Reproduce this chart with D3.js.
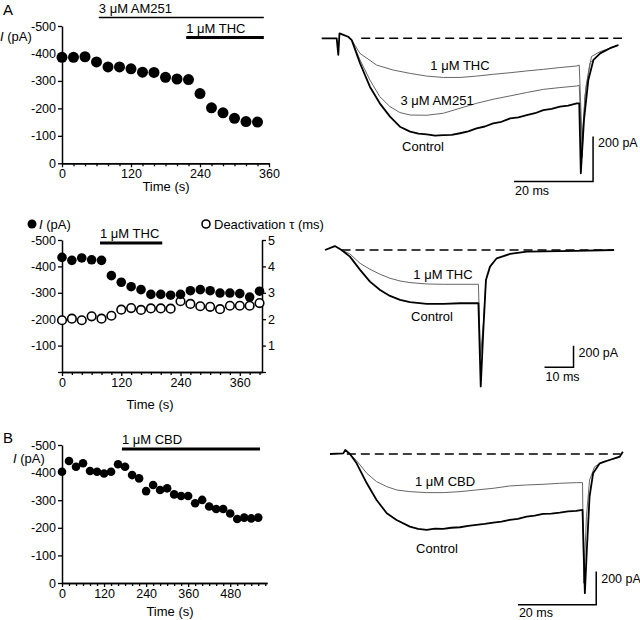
<!DOCTYPE html>
<html><head><meta charset="utf-8">
<script src="https://cdn.jsdelivr.net/npm/d3@7"></script>
<style>
body{margin:0;background:#fff}
text{font-family:"Liberation Sans",Arial,Helvetica,sans-serif;fill:#000}
</style>
</head><body><svg id="c" width="640" height="620"></svg>
<script>
// ---------- DATA ----------
// Panel A (top): current vs time
const a1Time = [0,20,40,60,80,100,120,140,160,180,200,220,240,260,280,300,320,340];
const a1Current = [-386,-386,-388,-369,-351,-351,-344,-332,-331,-313,-307,-305,-254,-202,-184,-164,-152,-150];
const a1Ticks = [0,120,240,360];
const a1Minor = [20,40,60,80,100,140,160,180,200,220,260,280,300,320,340];
const a1Bars = [{label:"3 μM AM251", start:64, end:351, heavy:false},
                {label:"1 μM THC", start:216, end:351, heavy:true}];

// Panel A (middle): current and deactivation tau vs time
const a2Time = [0,20,40,60,80,100,120,140,160,180,200,220,240,260,280,300,320,340,360,380,400];
const a2Current = [-434,-423,-432,-425,-423,-365,-340,-323,-312,-294,-294,-291,-294,-308,-312,-308,-299,-299,-297,-284,-306];
const a2Tau = [1.96,2.02,1.96,2.11,2.02,2.13,2.36,2.42,2.35,2.41,2.41,2.40,2.68,2.58,2.49,2.47,2.38,2.51,2.51,2.51,2.61];
const a2Ticks = [0,120,240,360];
const a2Minor = [20,40,60,80,100,140,160,180,200,220,260,280,300,320,340,380,400];
const a2Bars = [{label:"1 μM THC", start:77, end:203, heavy:true}];
const tauTicks = [1,2,3,4,5];

// Panel B: current vs time
const bTime = [0,20,40,60,80,100,120,140,160,180,200,220,240,260,280,300,320,340,360,380,400,420,440,460,480,500,520,540,560];
const bCurrent = [-403,-442,-421,-434,-406,-403,-397,-403,-430,-421,-391,-379,-333,-355,-337,-343,-321,-315,-315,-289,-301,-277,-268,-268,-252,-232,-237,-234,-237];
const bTicks = [0,120,240,360,480];
const bMinor = [20,40,60,80,100,140,160,180,200,220,260,280,300,320,340,380,400,420,440,460,500,520,540,560,580];
const bBars = [{label:"1 μM CBD", start:171, end:565, heavy:true}];

const currentTicks = [0,-100,-200,-300,-400,-500];

// Traces: [time (ms), current (pA)]
const t1Control = [[0,0],[3.8,0],[4.2,-74],[4.5,22],[5.5,15],[6.7,7],[7.6,-8],[9.7,-111],[12.2,-215],[14.7,-289],[17.3,-348],[19.8,-393],[22.4,-415],[24.5,-424],[26.6,-427],[28.7,-433],[30.8,-430],[32.9,-429],[35.0,-422],[37.1,-414],[39.2,-400],[41.3,-392],[43.4,-378],[45.5,-371],[47.7,-356],[49.8,-351],[51.9,-341],[54.0,-333],[56.1,-319],[58.2,-314],[60.3,-304],[62.4,-299],[64.6,-289],[65.2,-289],[65.6,-600],[66.4,-363],[67.5,-185],[68.8,-96],[70.5,-67],[73.0,-44],[75.1,-30]];
const t1THC = [[7.6,-8],[9.7,-67],[13.9,-119],[18.1,-141],[22.4,-156],[26.6,-168],[30.8,-174],[35.0,-174],[39.2,-168],[43.4,-160],[47.7,-153],[51.9,-145],[56.1,-138],[60.3,-130],[64.6,-123],[65.2,-119],[65.9,-450],[66.9,-215],[68.3,-81],[70.5,-59],[73.0,-44],[75.1,-30]];
const t1AM251 = [[7.6,-8],[9.7,-96],[12.2,-185],[14.7,-259],[17.3,-304],[19.8,-330],[22.4,-341],[26.6,-342],[30.8,-333],[35.0,-311],[39.2,-289],[43.4,-271],[47.7,-256],[51.9,-241],[56.1,-227],[60.3,-219],[64.6,-212],[65.2,-209],[65.9,-530],[66.6,-259],[67.9,-111],[70.5,-65],[73.0,-44],[75.1,-30]];
const t1Base = [[10,0],[76,0]];

const t2Control = [[0,0],[3.4,37],[5.7,0],[8.6,-62],[12.1,-187],[15.5,-297],[19.0,-375],[22.4,-431],[25.9,-469],[29.3,-490],[35.1,-506],[40.8,-506],[46.6,-500],[52.9,-500],[53.7,-1281],[54.6,-750],[55.5,-281],[56.9,-156],[59.2,-78],[63.8,-37],[69.6,-16],[75.3,-12],[86.8,-9],[99.7,0]];
const t2THC = [[5.7,0],[8.6,-37],[12.1,-125],[15.5,-181],[19.0,-228],[22.4,-265],[25.9,-291],[29.3,-306],[35.1,-319],[40.8,-322],[46.6,-322],[52.9,-322],[53.6,-1000],[54.6,-700],[55.5,-281]];
const t2Base = [[5.7,0],[98.3,0]];

const t3Control = [[0,0],[3.4,4],[3.9,24],[5.1,0],[6.8,-56],[9.4,-176],[11.9,-276],[14.5,-356],[17.0,-396],[20.4,-436],[22.5,-450],[24.7,-456],[26.8,-448],[28.9,-450],[31.0,-443],[33.2,-440],[35.3,-432],[37.4,-426],[39.5,-420],[41.7,-412],[43.8,-406],[45.9,-396],[48.0,-390],[50.2,-376],[52.3,-370],[54.4,-360],[56.5,-358],[58.7,-352],[60.8,-344],[62.9,-342],[64.5,-336],[65.1,-836],[65.6,-576],[66.3,-256],[67.2,-116],[68.9,-56],[71.4,-36],[74.0,-16],[74.8,14]];
const t3CBD = [[5.1,0],[6.8,-40],[9.4,-116],[11.9,-166],[14.5,-196],[17.0,-216],[20.4,-226],[24.7,-232],[28.9,-232],[33.2,-226],[37.4,-216],[41.7,-206],[45.9,-192],[50.2,-186],[54.4,-182],[58.7,-176],[62.9,-172],[64.5,-172],[64.8,-776],[65.5,-376],[66.3,-156],[67.6,-76],[69.7,-46],[74.0,-20]];
const t3Base = [[4.3,0],[74.2,0]];

// ---------- DRAWING ----------
const svg = d3.select("#c");
const FS = 12.5;

function styleAxis(g){
  g.select(".domain").attr("stroke","#000").attr("stroke-width",1.5);
  g.selectAll(".tick line").attr("stroke","#000").attr("stroke-width",1.3);
  g.selectAll(".tick text").attr("font-size",FS).attr("fill","#000")
   .attr("font-family",'"Liberation Sans",Arial,sans-serif');
}
function xAxis(scale, y, majors, minors){
  const g1 = svg.append("g").attr("transform",`translate(0,${y})`)
    .call(d3.axisBottom(scale).tickValues(minors).tickSize(3).tickSizeOuter(0).tickFormat(""));
  styleAxis(g1);
  const g2 = svg.append("g").attr("transform",`translate(0,${y})`)
    .call(d3.axisBottom(scale).tickValues(majors).tickSize(4).tickSizeOuter(0).tickPadding(2).tickFormat(d=>String(d)));
  styleAxis(g2);
}
function yAxis(scale, x, ticks, showZero){
  const g = svg.append("g").attr("transform",`translate(${x},0)`)
    .call(d3.axisLeft(scale).tickValues(ticks).tickSize(4).tickSizeOuter(0).tickPadding(2)
      .tickFormat(d => (d===0 && !showZero) ? "" : String(d)));
  styleAxis(g);
}
function bars(xs, list, yThin, yHeavy){
  list.forEach(b=>{
    const y = b.heavy ? yHeavy : yThin;
    svg.append("line").attr("x1",xs(b.start)).attr("x2",xs(b.end)).attr("y1",y).attr("y2",y)
      .attr("stroke","#000").attr("stroke-width",b.heavy?3:1.5);
    svg.append("text").attr("x",xs(b.start)).attr("y",y-5).attr("font-size",13).text(b.label);
  });
}
function ylabel(x,y){
  const t = svg.append("text").attr("x",x).attr("y",y).attr("font-size",13);
  t.append("tspan").attr("font-style","italic").text("I");
  t.append("tspan").text(" (pA)");
  return t;
}

// Panel A top
const xA1 = d3.scaleLinear().domain([0,360]).range([62,269]);
const yA1 = d3.scaleLinear().domain([0,-500]).range([163.3,26]);
xAxis(xA1, 163.3, a1Ticks, a1Minor);
yAxis(yA1, 62, currentTicks, true);
svg.append("g").selectAll("circle").data(a1Time).join("circle")
  .attr("cx",(d)=>xA1(d)).attr("cy",(d,i)=>yA1(a1Current[i])).attr("r",5.5).attr("fill","#000");
bars(xA1, a1Bars, 17.5, 37.5);
svg.append("text").attr("x",166).attr("y",191).attr("text-anchor","middle").attr("font-size",13).text("Time (s)");
svg.append("text").attr("x",3).attr("y",15).attr("font-size",15).text("A");
ylabel(0,41);

// Panel A middle
const xA2 = d3.scaleLinear().domain([0,405]).range([62,262]);
const yA2 = d3.scaleLinear().domain([0,-500]).range([372,240]);
const yTau = d3.scaleLinear().domain([0,5]).range([372,240]);
xAxis(xA2, 372, a2Ticks, a2Minor);
yAxis(yA2, 62, currentTicks, false);
const gR = svg.append("g").attr("transform","translate(262,0)")
  .call(d3.axisRight(yTau).tickValues([0].concat(tauTicks)).tickSize(4).tickSizeOuter(0).tickPadding(2).tickFormat(d=>d===0?"":String(d)));
styleAxis(gR);
svg.append("g").selectAll("circle").data(a2Time).join("circle")
  .attr("cx",d=>xA2(d)).attr("cy",(d,i)=>yTau(a2Tau[i])).attr("r",4.3)
  .attr("fill","#fff").attr("stroke","#000").attr("stroke-width",1.6);
svg.append("g").selectAll("circle").data(a2Time).join("circle")
  .attr("cx",d=>xA2(d)).attr("cy",(d,i)=>yA2(a2Current[i])).attr("r",4.8).attr("fill","#000");
bars(xA2, a2Bars, 243, 243);
svg.append("text").attr("x",150).attr("y",409).attr("text-anchor","middle").attr("font-size",13).text("Time (s)");
svg.append("circle").attr("cx",32).attr("cy",224).attr("r",4.5).attr("fill","#000");
ylabel(39,229);
svg.append("circle").attr("cx",206).attr("cy",224).attr("r",4).attr("fill","#fff").attr("stroke","#000").attr("stroke-width",1.6);
svg.append("text").attr("x",214).attr("y",229).attr("font-size",13).text("Deactivation τ (ms)");

// Panel B
const xB = d3.scaleLinear().domain([0,585]).range([62,267]);
const yB = d3.scaleLinear().domain([0,-500]).range([583,445]);
xAxis(xB, 583, bTicks, bMinor);
yAxis(yB, 62, currentTicks, true);
svg.append("g").selectAll("circle").data(bTime).join("circle")
  .attr("cx",d=>xB(d)).attr("cy",(d,i)=>yB(bCurrent[i])).attr("r",4.3).attr("fill","#000");
bars(xB, bBars, 449, 449);
svg.append("text").attr("x",170).attr("y",616).attr("text-anchor","middle").attr("font-size",13).text("Time (s)");
svg.append("text").attr("x",3).attr("y",443).attr("font-size",15).text("B");
ylabel(13,463);

// Traces
function tracePanel(xs, ys, series, base, sbar, labelDy){
  const line = d3.line().x(d=>xs(d[0])).y(d=>ys(d[1])).curve(d3.curveLinear);
  svg.append("path").datum(base).attr("d",line).attr("fill","none").attr("stroke","#000")
    .attr("stroke-width",1.4).attr("stroke-dasharray","9,5");
  series.forEach(s=>{
    svg.append("path").datum(s.data).attr("d",line).attr("fill","none")
      .attr("stroke",s.color).attr("stroke-width",s.w).attr("stroke-linejoin","round");
  });
  // scale bar
  const [t0,p0,dt,dp] = sbar;
  svg.append("path").attr("d",`M${xs(t0-dt)},${ys(p0)}H${xs(t0)}V${ys(p0+dp)}`)
    .attr("fill","none").attr("stroke","#000").attr("stroke-width",1.5);
  svg.append("text").attr("x",xs(t0)+5).attr("y",ys(p0+dp)+11).attr("font-size",12.5).text(dp+" pA");
  svg.append("text").attr("x",xs(t0-dt)+1).attr("y",ys(p0)+labelDy).attr("font-size",12.5).text(dt+" ms");
}
// top trace
const xT1 = d3.scaleLinear().domain([0,20]).range([321.7,400.7]);
const yT1 = d3.scaleLinear().domain([0,-200]).range([38.3,83.3]);
tracePanel(xT1, yT1, [
  {data:t1THC, color:"#666", w:1},
  {data:t1AM251, color:"#666", w:1},
  {data:t1Control, color:"#000", w:1.8}
], t1Base, [68.7, -636, 20, 200], 14);
svg.append("text").attr("x",460).attr("y",70).attr("text-anchor","middle").attr("font-size",13).text("1 μM THC");
svg.append("text").attr("x",437).attr("y",105).attr("text-anchor","middle").attr("font-size",13).text("3 μM AM251");
svg.append("text").attr("x",423).attr("y",151).attr("text-anchor","middle").attr("font-size",13).text("Control");

// middle trace
const xT2 = d3.scaleLinear().domain([0,10]).range([325,354]);
const yT2 = d3.scaleLinear().domain([0,-200]).range([250,271.3]);
tracePanel(xT2, yT2, [
  {data:t2THC, color:"#666", w:1},
  {data:t2Control, color:"#000", w:1.8}
], t2Base, [85.7, -1100, 10, 200], 14);
svg.append("text").attr("x",443).attr("y",279).attr("text-anchor","middle").attr("font-size",13).text("1 μM THC");
svg.append("text").attr("x",432).attr("y",321).attr("text-anchor","middle").attr("font-size",13).text("Control");

// bottom trace
const xT3 = d3.scaleLinear().domain([0,20]).range([330,408.3]);
const yT3 = d3.scaleLinear().domain([0,-200]).range([454,487.3]);
tracePanel(xT3, yT3, [
  {data:t3CBD, color:"#666", w:1},
  {data:t3Control, color:"#000", w:1.8}
], t3Base, [68.0, -906, 20, 200], 12);
svg.append("text").attr("x",445).attr("y",486).attr("text-anchor","middle").attr("font-size",13).text("1 μM CBD");
svg.append("text").attr("x",437).attr("y",553).attr("text-anchor","middle").attr("font-size",13).text("Control");
</script></body></html>
